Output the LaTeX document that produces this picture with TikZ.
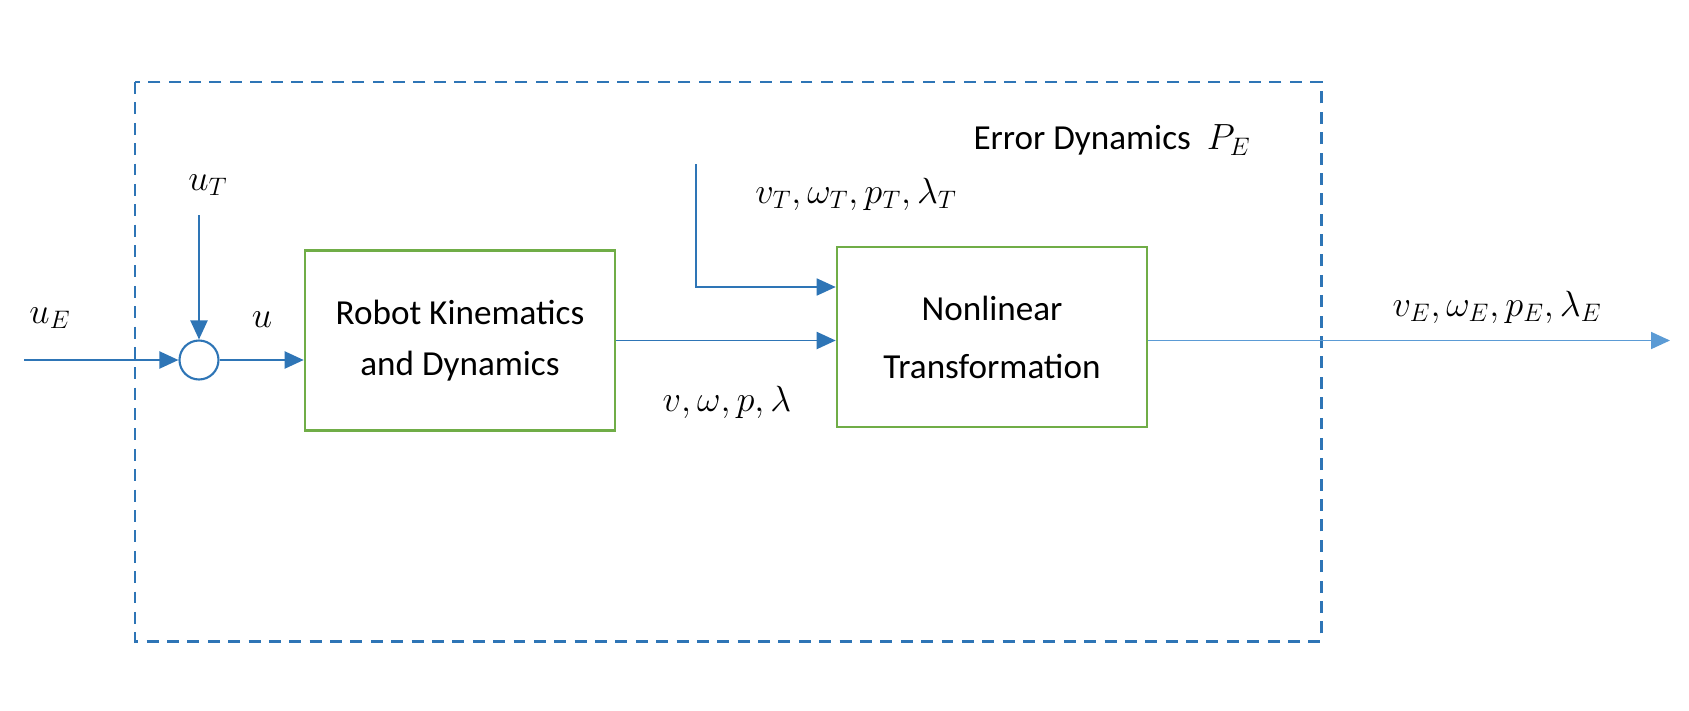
\documentclass[tikz,border=0pt]{standalone}
\usepackage{fontspec}
\setmainfont{Carlito}
\usetikzlibrary{positioning,arrows.meta}

\definecolor{sigblue}{HTML}{2E75B6}
\definecolor{outblue}{HTML}{5B9BD5}
\definecolor{boxgreen}{HTML}{70AD47}

\tikzset{
  block/.style={draw=boxgreen, line width=1.5pt, minimum width=6.2cm, minimum height=3.6cm, align=center, font=\fontsize{20}{29}\selectfont},
  sig/.style={draw=sigblue, line width=1.2pt, -{Triangle[length=0.38cm,width=0.34cm]}},
  lbl/.style={font=\fontsize{22}{24}\selectfont},
}

\begin{document}
\begin{tikzpicture}[x=0.02cm, y=-0.02cm]
  \useasboundingbox (0,0) rectangle (1689,710);

  % Error dynamics frame
  \draw[sigblue, line width=1.7pt, dash pattern=on 6.8pt off 4.8pt] (135,82) rectangle (1321,641);
  \node[font=\fontsize{20}{24}\selectfont] (title) at (1112,140) {Error Dynamics\ \ \fontsize{22}{24}\selectfont$P_E$};

  % Blocks
  \node[block] (robot) at (460,340.5) {Robot Kinematics\\and Dynamics};
  \node[block, font=\fontsize{20}{33}\selectfont] (nonlin) at (992,337) {Nonlinear\\Transformation};
  \node[circle, draw=sigblue, line width=1.2pt, minimum size=0.78cm, inner sep=0pt] (sum) at (199,360) {};

  % Free ends
  \coordinate (uEin) at (24,360);
  \coordinate (uTin) at (199,215);
  \coordinate (tgtin) at (696,164);
  \coordinate (tgtjoin) at (696,287);
  \coordinate (out) at (1670,340);

  % Signals
  \draw[sig] (uEin) -- (sum);
  \draw[sig] (uTin) -- (sum);
  \draw[sig] (sum.east) -- (sum.east -| robot.west);
  \draw[sig, line width=1.1pt] (robot.east) -- (robot.east -| nonlin.west);
  \draw[sig, line width=1pt] (tgtin) -- (tgtjoin) -- (tgtjoin -| nonlin.west);
  \draw[sig, draw=outblue, line width=1pt] (robot.east -| nonlin.east) -- (robot.east -| out);

  % Labels
  \node[lbl] (uE) at (50,318) {$u_E$};
  \node[lbl] (uT) at (208,185) {$u_T$};
  \node[lbl] (u) at (262,320) {$u$};
  \node[lbl] (state) at (727,402) {$v,\omega,p,\lambda$};
  \node[lbl] (tgtstate) at (856,194) {$v_T,\omega_T,p_T,\lambda_T$};
  \node[lbl] (errstate) at (1497,307) {$v_E,\omega_E,p_E,\lambda_E$};
\end{tikzpicture}
\end{document}
